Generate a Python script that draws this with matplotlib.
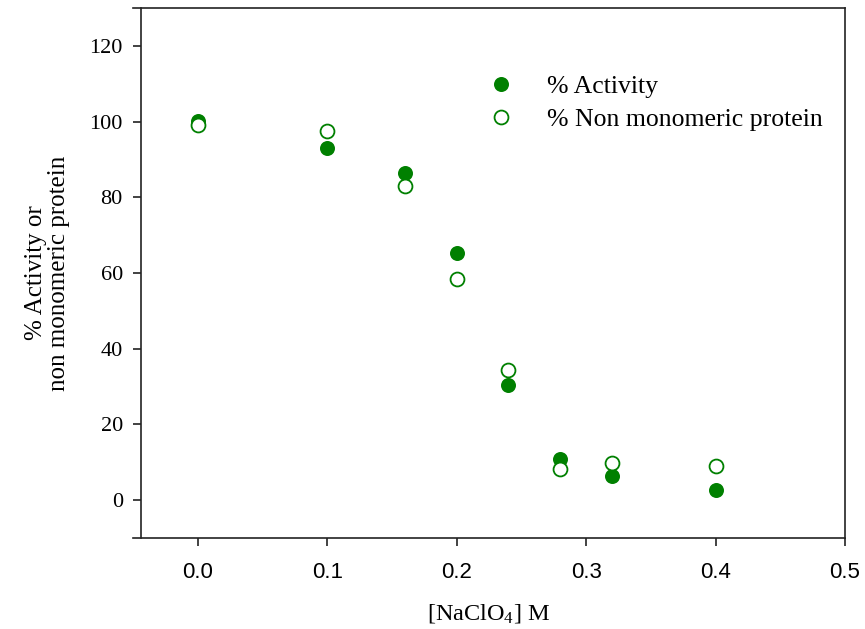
import matplotlib
matplotlib.use("Agg")
import matplotlib.pyplot as plt

conc = [0.0, 0.1, 0.16, 0.2, 0.24, 0.28, 0.32, 0.4]
activity = [100.2, 93.1, 86.3, 65.3, 30.3, 10.9, 6.3, 2.8]
non_monomeric = [99.2, 97.5, 83.1, 58.3, 34.3, 8.3, 9.8, 9.1]
xticks = [0.0, 0.1, 0.2, 0.3, 0.4, 0.5]
yticks = [0, 20, 40, 60, 80, 100, 120]

plt.rcParams['mathtext.fontset'] = 'custom'
plt.rcParams['mathtext.rm'] = 'Liberation Serif'
plt.rcParams['mathtext.it'] = 'Liberation Serif:italic'

fig = plt.figure(figsize=(8.65, 6.29), dpi=100)
ax = fig.add_axes([133/865, 1-538/629, (845-133)/865, (538-8)/629])

green = '#008000'
ax.plot(conc, activity, 'o', color=green, markersize=10.8, markeredgewidth=0,
        label='% Activity', zorder=3)
ax.plot(conc, non_monomeric, 'o', markerfacecolor='white', markeredgecolor=green,
        markersize=10.0, markeredgewidth=1.3, label='% Non monomeric protein', zorder=4)

ax.set_xlim(-0.05, 0.5)
ax.set_ylim(-10, 130)
ax.set_xticks(xticks)
ax.set_yticks(yticks)
ax.set_xticklabels([f'{v:.1f}' for v in xticks])
ax.set_yticklabels([str(v) for v in yticks])

ax.spines['left'].set_position(('data', -0.0439))
for s in ax.spines.values():
    s.set_linewidth(1.2)
    s.set_color('#222222')
ax.tick_params(direction='out', length=6, width=1.2, color='#222222')
ax.tick_params(axis='x', labelsize=16, pad=11)
ax.tick_params(axis='y', labelsize=16, pad=7)
for lab in ax.get_xticklabels():
    lab.set_family('Liberation Sans')
for lab in ax.get_yticklabels():
    lab.set_family('Liberation Serif')

ax.set_xlabel('[NaClO$_4$] M', family='Liberation Serif', fontsize=17.5, labelpad=14)
ax.set_ylabel('% Activity or\nnon monomeric protein', family='Liberation Serif',
              fontsize=18, labelpad=14, linespacing=1.05)

leg = ax.legend(loc='upper left', bbox_to_anchor=(0.466, 0.893), frameon=False,
                prop={'family': 'Liberation Serif', 'size': 18.5},
                handletextpad=0.78, labelspacing=0.38, borderaxespad=0,
                handlelength=2.0)

fig.savefig('out.png', dpi=100)
